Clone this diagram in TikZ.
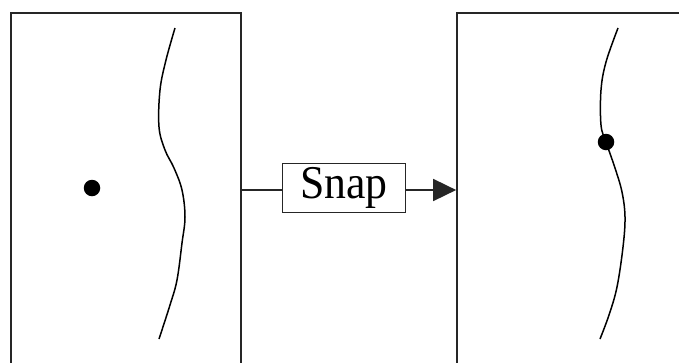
\documentclass[tikz,border=0pt]{standalone}
\usepackage{fontspec}
\setmainfont{Liberation Serif}
\usetikzlibrary{arrows.meta}
\begin{document}
\begin{tikzpicture}[x=1pt,y=-1pt,
  panel/.style={draw=black!85,line width=1.7pt,rectangle,inner sep=0pt},
  labelbox/.style={draw=black!85,line width=1.5pt,rectangle,inner sep=0pt,minimum width=123pt,minimum height=49pt},
  conn/.style={draw=black!85,line width=1.7pt},
  curve/.style={draw=black,line width=1.5pt},
  dot/.style={circle,fill=black,inner sep=0pt,minimum size=16.5pt}]
\useasboundingbox (0,0) rectangle (679,362);
\fill[white] (0,0) rectangle (679,362);
\begin{scope}
\clip (0,0) rectangle (679,362);
\node[panel,minimum width=230pt,minimum height=367pt] (leftbox) at (126,196.5) {};
\node[panel,minimum width=243pt,minimum height=367pt] (rightbox) at (578.5,196.5) {};
\node[labelbox] (snap) at (344,188) {\fontsize{47}{47}\selectfont\scalebox{0.93}[1]{Snap}};
\coordinate (la) at (leftbox.east |- 0,190);
\coordinate (ra) at (rightbox.west |- 0,190);
\draw[conn] (la) -- (snap.west |- la);
\draw[conn,-{Triangle[length=23pt,width=22pt]}] (snap.east |- ra) -- (ra);
\draw[curve] plot[smooth,tension=0.6] coordinates {(175,28) (166,60) (160,90) (159,127) (165,150) (174,168) (182,190) (185,217) (182,243) (177,280) (170,305) (159,339)};
\draw[curve] plot[smooth,tension=0.6] coordinates {(618,28) (606,62) (601,90) (601,125) (606,142) (615,168) (622,192) (625,217) (623,247) (617,287) (609,315) (600,339)};
\node[dot] (d1) at (92,188) {};
\node[dot] (d2) at (606,142) {};
\end{scope}
\end{tikzpicture}
\end{document}
